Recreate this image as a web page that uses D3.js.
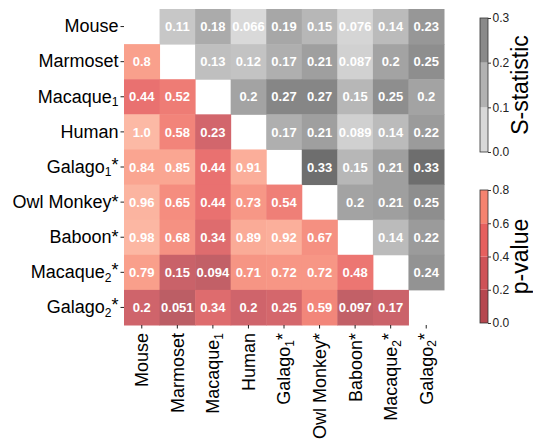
<!DOCTYPE html>
<html>
<head>
<meta charset="utf-8">
<script src="https://cdn.jsdelivr.net/npm/d3@7"></script>
<style>
  body { margin: 0; background: #fff; }
  text { font-family: "Liberation Sans", Arial, sans-serif; }
</style>
</head>
<body>
<svg width="533" height="439"></svg>
<script>
// species, "_n" marks a subscript
var species = ["Mouse", "Marmoset", "Macaque_1", "Human", "Galago_1*", "Owl Monkey*", "Baboon*", "Macaque_2*", "Galago_2*"];

// upper triangle: S-statistic, row by row (cols right of diagonal)
var sStat = [
  [0.11, 0.18, 0.066, 0.19, 0.15, 0.076, 0.14, 0.23],
  [0.13, 0.12, 0.17, 0.21, 0.087, 0.2, 0.25],
  [0.2, 0.27, 0.27, 0.15, 0.25, 0.2],
  [0.17, 0.21, 0.089, 0.14, 0.22],
  [0.33, 0.15, 0.21, 0.33],
  [0.2, 0.21, 0.25],
  [0.14, 0.22],
  [0.24]
];

// lower triangle: p-value, row by row (cols left of diagonal)
var pVal = [
  [],
  [0.8],
  [0.44, 0.52],
  [1.0, 0.58, 0.23],
  [0.84, 0.85, 0.44, 0.91],
  [0.96, 0.65, 0.44, 0.73, 0.54],
  [0.98, 0.68, 0.34, 0.89, 0.92, 0.67],
  [0.79, 0.15, 0.094, 0.71, 0.72, 0.72, 0.48],
  [0.2, 0.051, 0.34, 0.2, 0.25, 0.59, 0.097, 0.17]
];

var sTicks = [0, 0.1, 0.2, 0.3];
var pTicks = [0, 0.2, 0.4, 0.6, 0.8];

var svg = d3.select("svg");

var x = d3.scaleBand().domain(species).range([124, 444]);
var y = d3.scaleBand().domain(species).range([9, 325]);

var greyColor = d3.scaleLinear().domain([0, 0.33]).range(["#f4f4f4", "#6e6e6e"]).clamp(true);
var redColor = d3.scaleLinear()
    .domain([0, 0.2, 0.45, 0.6, 0.8, 1.0])
    .range(["#b65c63", "#cf646b", "#ea7270", "#f3877b", "#f9a08c", "#fcb9a5"]);

var cells = [];
sStat.forEach(function (row, i) {
  row.forEach(function (v, k) { cells.push({ r: i, c: i + 1 + k, v: v, kind: "s" }); });
});
pVal.forEach(function (row, i) {
  row.forEach(function (v, k) { cells.push({ r: i, c: k, v: v, kind: "p" }); });
});

function fmt(v) { return v >= 1 ? v.toFixed(1) : String(v); }

var g = svg.append("g");
g.selectAll("rect").data(cells).enter().append("rect")
    .attr("x", function (d) { return x(species[d.c]); })
    .attr("y", function (d) { return y(species[d.r]); })
    .attr("width", x.bandwidth() + 0.5)
    .attr("height", y.bandwidth() + 0.5)
    .attr("fill", function (d) { return d.kind === "s" ? greyColor(d.v) : redColor(d.v); });

g.selectAll("text").data(cells).enter().append("text")
    .attr("x", function (d) { return x(species[d.c]) + x.bandwidth() / 2; })
    .attr("y", function (d) { return y(species[d.r]) + y.bandwidth() / 2; })
    .attr("dy", "0.36em")
    .attr("text-anchor", "middle")
    .attr("fill", "#fff")
    .attr("font-weight", "bold")
    .attr("font-size", 13)
    .text(function (d) { return fmt(d.v); });

// write a label with subscript via tspans
function label(sel) {
  sel.each(function (d) {
    var t = d3.select(this).text(null);
    var m = d.match(/^(.*?)(?:_(\d))?(\*)?$/);
    t.append("tspan").text(m[1]);
    if (m[2]) t.append("tspan").attr("font-size", 12).attr("dy", "0.3em").text(m[2]);
    if (m[3]) t.append("tspan").attr("dy", m[2] ? "-0.3em" : 0).text(m[3]);
  });
}

var yAxis = svg.append("g")
    .attr("transform", "translate(124,0)")
    .call(d3.axisLeft(y).tickSize(3.5).tickPadding(2));
yAxis.select(".domain").remove();
yAxis.selectAll("line").attr("stroke", "#222");
yAxis.selectAll("text").attr("font-size", 18).attr("fill", "#000").call(label);

var xAxis = svg.append("g")
    .attr("transform", "translate(0,325)")
    .call(d3.axisBottom(x).tickSize(3.5).tickPadding(2));
xAxis.select(".domain").remove();
xAxis.selectAll("line").attr("stroke", "#222");
xAxis.selectAll("text")
    .attr("font-size", 18).attr("fill", "#000")
    .attr("text-anchor", "end")
    .attr("transform", "rotate(-90)")
    .attr("x", -8).attr("y", 0).attr("dy", "0.36em")
    .call(label);

// colorbars
function colorbar(top, bottom, domain, ticks, colors, title) {
  var sc = d3.scaleLinear().domain(domain).range([bottom, top]);
  var cb = svg.append("g");
  var bands = d3.pairs(ticks);
  cb.selectAll("rect.band").data(bands).enter().append("rect")
      .attr("x", 480).attr("width", 8)
      .attr("y", function (d) { return sc(d[1]); })
      .attr("height", function (d) { return sc(d[0]) - sc(d[1]); })
      .attr("fill", function (d, i) { return colors[i]; });
  cb.append("rect")
      .attr("x", 480).attr("width", 8)
      .attr("y", top).attr("height", bottom - top)
      .attr("fill", "none").attr("stroke", "#333").attr("stroke-width", 0.8);
  var ax = cb.append("g").attr("transform", "translate(488,0)")
      .call(d3.axisRight(sc).tickValues(ticks).tickFormat(d3.format(".1f")).tickSize(3).tickPadding(1.5));
  ax.select(".domain").remove();
  ax.selectAll("line").attr("stroke", "#333");
  ax.selectAll("text").attr("font-size", 12).attr("fill", "#222");
  cb.append("text")
      .attr("transform", "translate(520," + ((top + bottom) / 2) + ") rotate(-90)")
      .attr("text-anchor", "middle")
      .attr("dy", "0.36em")
      .attr("font-size", 23)
      .attr("fill", "#000")
      .text(title);
}

colorbar(18, 152, [0, 0.3], sTicks, ["#d8d8d8", "#b2b2b2", "#8a8a8a"], "S-statistic");
colorbar(190, 323, [0, 0.8], pTicks, ["#b6474f", "#cf5358", "#e6605e", "#f5836f"], "p-value");
</script>
</body>
</html>
